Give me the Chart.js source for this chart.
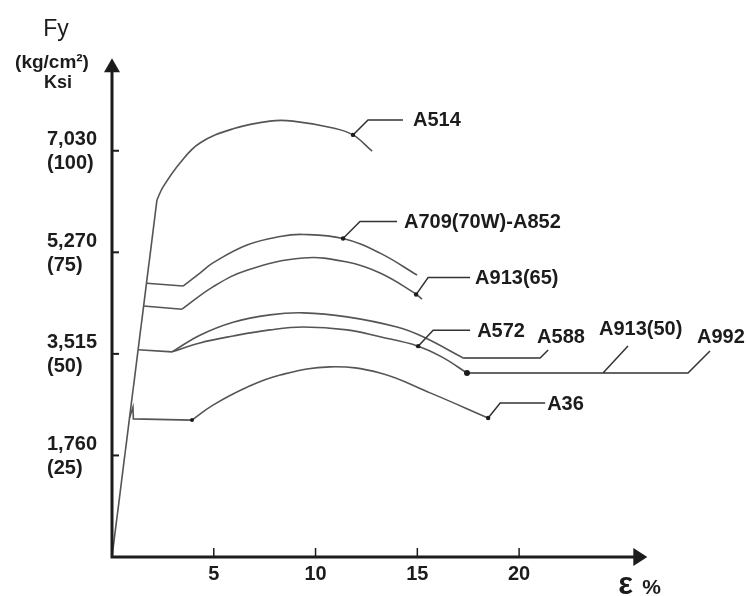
<!DOCTYPE html>
<html>
<head>
<meta charset="utf-8">
<script src="https://cdn.jsdelivr.net/npm/chart.js@4.4.0/dist/chart.umd.min.js"></script>
<style>
  html, body { margin: 0; padding: 0; background: #fff; }
  #wrap { width: 747px; height: 596px; position: relative; }
</style>
</head>
<body>
<div id="wrap"><canvas id="fyChart"></canvas></div>
<script>
/* strain in %, yield stress in ksi */

// shared elastic line up to the A514 knee
const ELASTIC_X = [0, 2.21];
const ELASTIC_Y = [0, 87.9];

const A514_X = [2.21, 2.51, 3.34, 4.32, 5.95, 7.76, 8.89, 10.86, 11.84, 12.78];
const A514_Y = [87.9, 91.1, 97.0, 101.9, 105.4, 107.3, 107.3, 105.6, 103.9, 99.9];

const A709_YIELD_X = [1.70, 3.49];
const A709_YIELD_Y = [67.4, 66.7];
const A709_X = [3.49, 4.32, 4.96, 6.63, 8.26, 9.39, 11.35, 13.17, 14.99];
const A709_Y = [66.7, 69.9, 72.4, 76.8, 78.9, 79.4, 78.4, 74.8, 69.4];

const A913_65_YIELD_X = [1.55, 3.44];
const A913_65_YIELD_Y = [61.8, 61.0];
const A913_65_X = [3.44, 4.96, 6.63, 9.39, 11.55, 13.17, 14.79, 15.23];
const A913_65_Y = [61.0, 66.5, 70.6, 73.6, 72.6, 69.9, 65.2, 63.5];

// A572 / A588 share the same yield plateau
const A50_YIELD_X = [1.28, 2.95];
const A50_YIELD_Y = [51.0, 50.5];
const A588_X = [2.95, 4.32, 5.95, 7.76, 9.39, 11.55, 14.00, 15.28, 17.25];
const A588_Y = [50.5, 54.6, 57.8, 59.6, 60.1, 59.1, 56.6, 54.2, 49.0];
const A572_X = [2.95, 4.32, 5.95, 7.76, 9.39, 11.55, 13.17, 15.04, 16.22, 17.44];
const A572_Y = [50.5, 52.7, 54.4, 55.9, 56.6, 55.9, 54.2, 51.9, 49.2, 45.3];

const A36_YIELD_X = [0.86, 1.03, 1.05, 3.93];
const A36_YIELD_Y = [34.2, 36.9, 34.0, 33.7];
const A36_X = [3.93, 4.96, 6.63, 8.26, 10.71, 13.17, 15.63, 18.48];
const A36_Y = [33.7, 37.4, 41.8, 44.8, 46.8, 45.3, 40.4, 34.2];

const X_TICKS = [5, 10, 15, 20];
const Y_TICKS = [25, 50, 75, 100];
const Y_TICK_TEXT = { 25: ['1,760', '(25)'], 50: ['3,515', '(50)'], 75: ['5,270', '(75)'], 100: ['7,030', '(100)'] };
const X_AXIS_END = 26.3;
const Y_AXIS_END = 122.8;

const INK = '#1c1c1c';
const CURVE = '#555555';
const LABEL_FONT = 'bold 20px "Liberation Sans", Arial, sans-serif';

function pts(xs, ys) {
    return xs.map((v, i) => ({ x: v, y: ys[i] }));
}

function straight(xs, ys) {
    return { data: pts(xs, ys), borderColor: CURVE, borderWidth: 1.6, tension: 0, pointRadius: 0, showLine: true };
}

function smooth(xs, ys) {
    return { data: pts(xs, ys), borderColor: CURVE, borderWidth: 1.6, tension: 0.4, pointRadius: 0, showLine: true };
}

/* simple callouts: dot on curve, short diagonal, horizontal run, text */
const callouts = [
    { text: 'A514', at: [11.84, 103.9], dx: 15, dy: -15, run: 50, tx: 60 },
    { text: 'A709(70W)-A852', at: [11.35, 78.4], dx: 17, dy: -17, run: 54, tx: 61 },
    { text: 'A913(65)', at: [14.94, 64.6], dx: 12, dy: -17, run: 54, tx: 59 },
    { text: 'A572', at: [15.04, 51.9], dx: 15, dy: -16, run: 52, tx: 59 },
    { text: 'A36', at: [18.48, 34.2], dx: 12, dy: -15, run: 57, tx: 59 }
];

const axesPlugin = {
    id: 'arrowAxes',
    afterDraw(chart) {
        const { ctx, scales: { x, y } } = chart;
        const x0 = x.getPixelForValue(0);
        const y0 = y.getPixelForValue(0);
        const xEnd = x.getPixelForValue(X_AXIS_END);
        const yEnd = y.getPixelForValue(Y_AXIS_END);

        ctx.save();
        ctx.strokeStyle = INK;
        ctx.fillStyle = INK;

        // axis lines
        ctx.lineWidth = 3;
        ctx.beginPath();
        ctx.moveTo(x0, yEnd + 10);
        ctx.lineTo(x0, y0);
        ctx.lineTo(xEnd - 10, y0);
        ctx.stroke();

        // arrow heads
        ctx.beginPath();
        ctx.moveTo(x0, yEnd);
        ctx.lineTo(x0 - 8, yEnd + 14);
        ctx.lineTo(x0 + 8, yEnd + 14);
        ctx.closePath();
        ctx.fill();
        ctx.beginPath();
        ctx.moveTo(xEnd, y0);
        ctx.lineTo(xEnd - 14, y0 - 9);
        ctx.lineTo(xEnd - 14, y0 + 9);
        ctx.closePath();
        ctx.fill();

        // y ticks + labels
        ctx.lineWidth = 2;
        ctx.font = LABEL_FONT;
        ctx.textAlign = 'left';
        ctx.textBaseline = 'middle';
        Y_TICKS.forEach(v => {
            const py = y.getPixelForValue(v);
            ctx.beginPath();
            ctx.moveTo(x0, py);
            ctx.lineTo(x0 + 7, py);
            ctx.stroke();
            const lines = Y_TICK_TEXT[v];
            ctx.fillText(lines[0], x0 - 65, py - 11);
            ctx.fillText(lines[1], x0 - 65, py + 13);
        });

        // x ticks + labels
        ctx.lineWidth = 1.5;
        ctx.textAlign = 'center';
        X_TICKS.forEach(v => {
            const px = x.getPixelForValue(v);
            ctx.beginPath();
            ctx.moveTo(px, y0);
            ctx.lineTo(px, y0 - 9);
            ctx.stroke();
            ctx.fillText(String(v), px, y0 + 17);
        });

        // axis titles
        ctx.font = '23px "Liberation Sans", Arial, sans-serif';
        ctx.fillText('Fy', x0 - 56, 30);
        ctx.font = 'bold 19px "Liberation Sans", Arial, sans-serif';
        ctx.fillText('(kg/cm²)', x0 - 60, 63);
        ctx.font = 'bold 18px "Liberation Sans", Arial, sans-serif';
        ctx.fillText('Ksi', x0 - 54, 83);
        ctx.textAlign = 'left';
        ctx.font = 'bold 31px "Liberation Sans", Arial, sans-serif';
        ctx.fillText('ε', xEnd - 29, y0 + 28);
        ctx.font = 'bold 21px "Liberation Sans", Arial, sans-serif';
        ctx.fillText('%', xEnd - 5, y0 + 31);

        // callouts
        ctx.lineWidth = 1.5;
        ctx.strokeStyle = '#333';
        ctx.fillStyle = INK;
        ctx.font = LABEL_FONT;
        callouts.forEach(c => {
            const px = x.getPixelForValue(c.at[0]);
            const py = y.getPixelForValue(c.at[1]);
            ctx.beginPath();
            ctx.moveTo(px, py);
            ctx.lineTo(px + c.dx, py + c.dy);
            ctx.lineTo(px + c.run, py + c.dy);
            ctx.stroke();
            ctx.beginPath();
            ctx.arc(px, py, 2.2, 0, Math.PI * 2);
            ctx.fill();
            ctx.fillText(c.text, px + c.tx, py + c.dy + 1);
        });

        // small dot where A36 starts hardening
        ctx.beginPath();
        ctx.arc(x.getPixelForValue(A36_X[0]), y.getPixelForValue(A36_Y[0]), 2, 0, Math.PI * 2);
        ctx.fill();

        // A588: leader from the end of its curve
        const e1x = x.getPixelForValue(A588_X[A588_X.length - 1]);
        const e1y = y.getPixelForValue(A588_Y[A588_Y.length - 1]);
        ctx.beginPath();
        ctx.moveTo(e1x, e1y);
        ctx.lineTo(e1x + 77, e1y);
        ctx.lineTo(e1x + 85, e1y - 8);
        ctx.stroke();
        ctx.fillText('A588', e1x + 74, e1y - 20);

        // A572 end: long run to A913(50) and A992
        const e2x = x.getPixelForValue(A572_X[A572_X.length - 1]);
        const e2y = y.getPixelForValue(A572_Y[A572_Y.length - 1]);
        ctx.beginPath();
        ctx.moveTo(e2x, e2y);
        ctx.lineTo(e2x + 221, e2y);
        ctx.lineTo(e2x + 243, e2y - 22);
        ctx.moveTo(e2x + 136, e2y);
        ctx.lineTo(e2x + 161, e2y - 27);
        ctx.stroke();
        ctx.beginPath();
        ctx.arc(e2x, e2y, 3, 0, Math.PI * 2);
        ctx.fill();
        ctx.fillText('A913(50)', e2x + 132, e2y - 43);
        ctx.fillText('A992', e2x + 230, e2y - 35);

        ctx.restore();
    }
};

new Chart(document.getElementById('fyChart'), {
    type: 'scatter',
    data: {
        datasets: [
            straight(ELASTIC_X, ELASTIC_Y),
            smooth(A514_X, A514_Y),
            straight(A709_YIELD_X, A709_YIELD_Y),
            smooth(A709_X, A709_Y),
            straight(A913_65_YIELD_X, A913_65_YIELD_Y),
            smooth(A913_65_X, A913_65_Y),
            straight(A50_YIELD_X, A50_YIELD_Y),
            smooth(A588_X, A588_Y),
            smooth(A572_X, A572_Y),
            straight(A36_YIELD_X, A36_YIELD_Y),
            smooth(A36_X, A36_Y)
        ]
    },
    options: {
        responsive: true,
        maintainAspectRatio: false,
        animation: false,
        layout: { padding: { left: 112, right: 4, top: 37, bottom: 39 } },
        scales: {
            x: { type: 'linear', min: 0, max: 31, display: false },
            y: { type: 'linear', min: 0, max: 128, display: false }
        },
        plugins: { legend: { display: false }, tooltip: { enabled: false } }
    },
    plugins: [axesPlugin]
});
</script>
</body>
</html>
